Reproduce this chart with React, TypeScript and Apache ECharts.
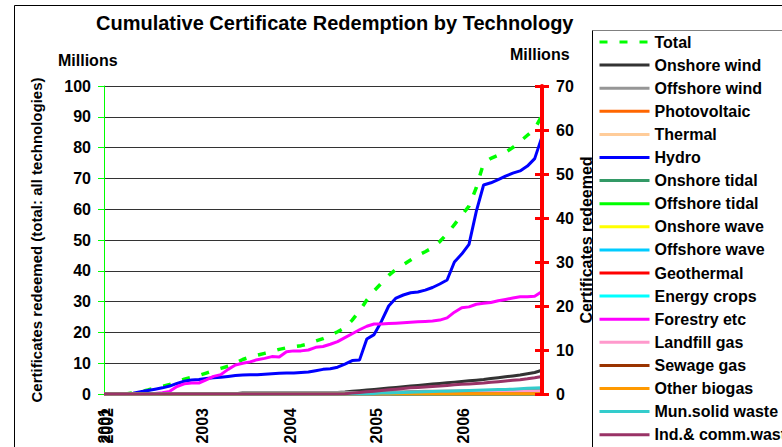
import React, { useEffect, useRef } from 'react';
import * as echarts from 'echarts';

// x positions are month indices (0 = first data point); year labels sit at these positions
const yearLabelPos = [0, 0.45, 13.5, 25.5, 37.3, 49.2];
const yearLabels = ['2001', '2002', '2003', '2004', '2005', '2006'];

const leftTicks = [0, 100, 10];
const rightTicks = [0, 70, 10];

// Total (left axis, millions)
const total = [0, 0, 0, 0, 0.4, 0.8, 1.3, 1.9, 2.5, 3.1, 4.0, 4.8, 5.4, 6.0, 6.8, 7.6, 8.3, 9.0, 10.0, 11.2, 12.0, 12.6, 13.2, 13.8, 14.5, 15.0, 15.4, 15.7, 16.3, 17.2, 18.0, 19.0, 20.2, 21.5, 24.0, 27.0, 30.5, 33.5, 36.0, 38.5, 40.5, 42.0, 43.5, 45.0, 46.2, 47.5, 49.5, 52.0, 55.0, 58.0, 61.0, 67.0, 75.0, 76.5, 77.5, 78.5, 80.0, 82.0, 84.0, 86.0, 90.5];
// Technologies (right axis, millions)
const onshoreWind = [0, 0, 0, 0, 0, 0, 0, 0, 0, 0, 0, 0, 0, 0, 0, 0, 0, 0, 0, 0, 0, 0, 0, 0, 0, 0, 0.05, 0.08, 0.1, 0.15, 0.2, 0.28, 0.35, 0.45, 0.6, 0.75, 0.9, 1.05, 1.2, 1.35, 1.5, 1.65, 1.8, 1.95, 2.1, 2.25, 2.4, 2.55, 2.7, 2.85, 3.0, 3.15, 3.3, 3.5, 3.7, 3.9, 4.1, 4.3, 4.6, 4.9, 5.4];
const offshoreWind = [0, 0, 0, 0, 0, 0, 0, 0, 0, 0, 0, 0, 0, 0, 0, 0, 0, 0, 0, 0.35, 0.35, 0.35, 0.35, 0.35, 0.35, 0.35, 0.35, 0.35, 0.35, 0.35, 0.35, 0.35, 0.35, 0.35, 0.35, 0.35, 0.4, 0.42, 0.45, 0.47, 0.5, 0.52, 0.55, 0.57, 0.6, 0.62, 0.64, 0.66, 0.68, 0.7, 0.71, 0.72, 0.73, 0.74, 0.75, 0.76, 0.77, 0.78, 0.79, 0.8, 0.8];
const photovoltaic = [0, 0, 0, 0, 0, 0, 0, 0, 0, 0, 0, 0, 0, 0, 0, 0, 0, 0, 0, 0, 0, 0, 0, 0, 0, 0, 0, 0, 0, 0, 0, 0, 0, 0, 0, 0, 0, 0, 0, 0, 0, 0, 0, 0, 0, 0, 0, 0, 0, 0, 0, 0, 0, 0, 0, 0, 0, 0, 0, 0, 0];
const thermal = [0, 0, 0, 0, 0, 0, 0, 0, 0, 0, 0, 0, 0, 0, 0, 0, 0, 0, 0, 0, 0, 0, 0, 0, 0, 0, 0, 0, 0, 0, 0, 0, 0, 0, 0, 0, 0, 0, 0, 0, 0, 0, 0, 0, 0, 0, 0, 0, 0, 0, 0, 0, 0, 0, 0, 0, 0, 0, 0, 0, 0];
const hydro = [0, 0, 0, 0, 0.2, 0.5, 0.8, 1.1, 1.4, 1.8, 2.4, 2.9, 3.2, 3.3, 3.5, 3.7, 3.8, 4.0, 4.2, 4.3, 4.35, 4.4, 4.5, 4.6, 4.7, 4.75, 4.8, 4.9, 5.0, 5.3, 5.6, 5.75, 6.1, 6.8, 7.6, 7.7, 12.5, 13.5, 16.5, 20.0, 21.8, 22.5, 23.0, 23.2, 23.6, 24.2, 25.0, 25.9, 30.0, 31.8, 34.0, 41.5, 47.5, 48.0, 48.7, 49.5, 50.2, 50.7, 51.8, 53.5, 58.5];
const onshoreTidal = [0, 0, 0, 0, 0, 0, 0, 0, 0, 0, 0, 0, 0, 0, 0, 0, 0, 0, 0, 0, 0, 0, 0, 0, 0, 0, 0, 0, 0, 0, 0, 0, 0, 0, 0, 0, 0, 0, 0, 0, 0, 0, 0, 0, 0, 0, 0, 0, 0, 0, 0, 0, 0, 0, 0, 0, 0, 0, 0, 0, 0];
const offshoreTidal = [0, 0, 0, 0, 0, 0, 0, 0, 0, 0, 0, 0, 0, 0, 0, 0, 0, 0, 0, 0, 0, 0, 0, 0, 0, 0, 0, 0, 0, 0, 0, 0, 0, 0, 0, 0, 0, 0, 0, 0, 0, 0, 0, 0, 0, 0, 0, 0, 0, 0, 0, 0, 0, 0, 0, 0, 0, 0, 0, 0, 0];
const onshoreWave = [0, 0, 0, 0, 0, 0, 0, 0, 0, 0, 0, 0, 0, 0, 0, 0, 0, 0, 0, 0, 0, 0, 0, 0, 0, 0, 0, 0, 0, 0, 0, 0, 0, 0, 0, 0, 0, 0, 0, 0, 0, 0, 0, 0, 0, 0, 0, 0, 0, 0, 0, 0, 0, 0, 0, 0, 0, 0, 0, 0, 0];
const offshoreWave = [0, 0, 0, 0, 0, 0, 0, 0, 0, 0, 0, 0, 0, 0, 0, 0, 0, 0, 0, 0, 0, 0, 0, 0, 0, 0, 0, 0, 0, 0, 0, 0, 0, 0, 0, 0, 0, 0, 0, 0, 0, 0, 0, 0, 0, 0, 0, 0, 0, 0, 0, 0, 0, 0, 0, 0, 0, 0, 0, 0, 0];
const geothermal = [0, 0, 0, 0, 0, 0, 0, 0, 0, 0, 0, 0, 0, 0, 0, 0, 0, 0, 0, 0, 0, 0, 0, 0, 0, 0, 0, 0, 0, 0, 0, 0, 0, 0, 0, 0, 0, 0, 0, 0, 0, 0, 0, 0, 0, 0, 0, 0, 0, 0, 0, 0, 0, 0, 0, 0, 0, 0, 0, 0, 0];
const energyCrops = [0, 0, 0, 0, 0, 0, 0, 0, 0, 0, 0, 0, 0, 0, 0, 0, 0, 0, 0, 0, 0, 0, 0, 0, 0, 0, 0, 0, 0, 0, 0, 0, 0, 0, 0, 0, 0, 0, 0, 0, 0, 0, 0, 0, 0, 0, 0, 0, 0, 0, 0, 0, 0, 0, 0, 0, 0, 0, 0, 0, 0];
const forestry = [0, 0, 0, 0, 0, 0, 0, 0.1, 0.3, 0.6, 1.7, 2.3, 2.5, 2.5, 3.2, 4.0, 4.4, 5.6, 6.6, 7.0, 7.3, 7.8, 8.1, 8.5, 8.4, 9.6, 9.8, 9.8, 10.0, 10.6, 10.8, 11.3, 11.9, 12.8, 13.7, 14.6, 15.4, 15.9, 15.9, 16.0, 16.1, 16.2, 16.3, 16.4, 16.5, 16.6, 16.8, 17.3, 18.6, 19.6, 19.8, 20.4, 20.6, 20.8, 21.2, 21.5, 21.8, 22.1, 22.1, 22.2, 23.3];
const landfillGas = [0, 0, 0, 0, 0, 0, 0, 0, 0, 0, 0, 0, 0, 0, 0, 0, 0, 0, 0, 0, 0, 0, 0, 0, 0, 0, 0, 0, 0, 0, 0, 0, 0, 0, 0, 0, 0, 0, 0, 0, 0.2, 0.22, 0.24, 0.26, 0.28, 0.3, 0.32, 0.34, 0.36, 0.38, 0.4, 0.42, 0.44, 0.46, 0.48, 0.5, 0.52, 0.54, 0.56, 0.58, 0.6];
const sewageGas = [0, 0, 0, 0, 0, 0, 0, 0, 0, 0, 0, 0, 0, 0, 0, 0, 0, 0, 0, 0, 0, 0, 0, 0, 0, 0, 0, 0, 0, 0, 0, 0, 0, 0, 0, 0, 0, 0, 0, 0, 0, 0, 0, 0, 0, 0, 0, 0, 0, 0, 0, 0, 0, 0, 0, 0, 0, 0, 0, 0, 0];
const otherBiogas = [0, 0, 0, 0, 0, 0, 0, 0, 0, 0, 0, 0, 0, 0, 0, 0, 0, 0, 0, 0, 0.05, 0.05, 0.05, 0.05, 0.05, 0.05, 0.05, 0.05, 0.05, 0.05, 0.05, 0.05, 0.05, 0.05, 0.05, 0.05, 0.05, 0.05, 0.05, 0.05, 0.05, 0.05, 0.05, 0.05, 0.05, 0.05, 0.05, 0.05, 0.05, 0.05, 0.05, 0.05, 0.05, 0.05, 0.05, 0.05, 0.05, 0.05, 0.05, 0.05, 0.05];
const munSolidWaste = [0, 0, 0, 0, 0, 0, 0, 0, 0, 0, 0, 0, 0, 0, 0, 0, 0, 0, 0, 0, 0, 0, 0, 0, 0, 0, 0, 0, 0, 0, 0, 0, 0, 0, 0, 0, 0, 0.1, 0.2, 0.25, 0.3, 0.35, 0.4, 0.45, 0.5, 0.55, 0.6, 0.65, 0.7, 0.75, 0.8, 0.85, 0.9, 0.95, 1.0, 1.05, 1.1, 1.2, 1.3, 1.35, 1.4];
const indCommWaste = [0, 0, 0, 0, 0, 0, 0, 0, 0, 0, 0, 0, 0, 0, 0, 0, 0, 0, 0, 0, 0, 0, 0, 0, 0, 0, 0, 0, 0, 0, 0, 0, 0, 0.05, 0.2, 0.35, 0.5, 0.65, 0.8, 0.95, 1.1, 1.25, 1.4, 1.5, 1.6, 1.7, 1.8, 1.95, 2.1, 2.2, 2.3, 2.4, 2.5, 2.65, 2.8, 2.95, 3.1, 3.25, 3.45, 3.7, 4.0];

const seriesNames = ['Total', 'Onshore wind', 'Offshore wind', 'Photovoltaic', 'Thermal', 'Hydro', 'Onshore tidal', 'Offshore tidal', 'Onshore wave', 'Offshore wave', 'Geothermal', 'Energy crops', 'Forestry etc', 'Landfill gas', 'Sewage gas', 'Other biogas', 'Mun.solid waste', 'Ind.& comm.wast'];
const seriesValues = [total, onshoreWind, offshoreWind, photovoltaic, thermal, hydro, onshoreTidal, offshoreTidal, onshoreWave, offshoreWave, geothermal, energyCrops, forestry, landfillGas, sewageGas, otherBiogas, munSolidWaste, indCommWaste];
const seriesColors = ['#00FF00', '#333333', '#969696', '#FF6600', '#FFCC99', '#0000FF', '#339966', '#00FF00', '#FFFF00', '#00CCFF', '#FF0000', '#00FFFF', '#FF00FF', '#FF99CC', '#993300', '#FF9900', '#33CCCC', '#993366'];

const FONT = '"Liberation Sans", Arial, sans-serif';
const ROW = 23.1;

export default function App() {
  const ref = useRef<HTMLDivElement>(null);
  useEffect(() => {
    document.body.style.margin = '0';
    if (!ref.current) return;
    const chart = echarts.init(ref.current, null, { renderer: 'svg' });
    const series = seriesNames.map((name, k) => ({
      name,
      type: 'line',
      xAxisIndex: 0,
      yAxisIndex: k === 0 ? 0 : 1,
      symbol: 'none',
      data: seriesValues[k].map((v, i) => [i, v]),
      lineStyle: {
        color: seriesColors[k],
        width: k === 0 ? 3.5 : 3,
        type: k === 0 ? [8, 12] : 'solid',
      },
      itemStyle: { color: seriesColors[k] },
      z: 2,
    }));
    const legendBase = {
      orient: 'vertical',
      left: 598,
      padding: 0,
      itemWidth: 50,
      itemHeight: 16,
      itemGap: ROW - 16,
      itemStyle: { opacity: 0 },
      lineStyle: { width: 3 },
      textStyle: { fontFamily: FONT, fontSize: 16, lineHeight: 16, fontWeight: 'bold', color: '#000' },
    };
    const labelFormatter = (v: number) => {
      let best = 0;
      yearLabelPos.forEach((p, i) => {
        if (Math.abs(p - v) < Math.abs(yearLabelPos[best] - v)) best = i;
      });
      return yearLabels[best];
    };
    const xLabelStyle = {
      rotate: 90,
      margin: 14,
      fontFamily: FONT,
      fontSize: 16,
      fontWeight: 'bold',
      color: '#000',
      showMinLabel: true,
      showMaxLabel: true,
      hideOverlap: false,
      formatter: labelFormatter,
    };
    const option = {
      animation: false,
      backgroundColor: '#ffffff',
      textStyle: { fontFamily: FONT },
      title: {
        text: 'Cumulative Certificate Redemption by Technology',
        left: 96,
        top: 13,
        padding: 0,
        textStyle: { fontFamily: FONT, fontSize: 20, fontWeight: 'bold', color: '#000' },
      },
      legend: [
        { ...legendBase, top: 34, data: seriesNames.slice(0, 9) },
        { ...legendBase, top: 34 + 9 * ROW, data: seriesNames.slice(9) },
      ],
      grid: { left: 104, right: 240, top: 86, bottom: 53, containLabel: false },
      xAxis: [
        {
          type: 'value',
          position: 'bottom',
          min: 0,
          max: total.length - 1,
          axisLine: { show: true, onZero: false, lineStyle: { color: '#333', width: 1 } },
          axisTick: { show: false },
          splitLine: { show: false },
          axisLabel: { ...xLabelStyle, customValues: yearLabelPos.filter((_, i) => i !== 1) },
        },
        {
          type: 'value',
          position: 'bottom',
          min: 0,
          max: total.length - 1,
          axisLine: { show: false, onZero: false },
          axisTick: { show: false },
          splitLine: { show: false },
          axisLabel: { ...xLabelStyle, customValues: [yearLabelPos[1]] },
        },
      ],
      yAxis: [
        {
          type: 'value',
          position: 'left',
          min: leftTicks[0],
          max: leftTicks[1],
          interval: leftTicks[2],
          name: 'Certificates redeemed (total: all technologies)',
          nameLocation: 'middle',
          nameRotate: 90,
          nameGap: 60,
          nameMoveOverlap: false,
          nameTextStyle: { fontFamily: FONT, fontSize: 15, fontWeight: 'bold', color: '#000' },
          axisLine: { show: true, onZero: false, lineStyle: { color: '#00FF00', width: 1 } },
          axisTick: { show: true, length: 6, lineStyle: { color: '#00FF00', width: 1 } },
          axisLabel: { margin: 13, fontFamily: FONT, fontSize: 16, fontWeight: 'bold', color: '#000' },
          splitLine: { show: true, lineStyle: { color: '#333333', width: 1 } },
        },
        {
          type: 'value',
          position: 'right',
          min: rightTicks[0],
          max: rightTicks[1],
          interval: rightTicks[2],
          name: 'Certificates redeemed',
          nameLocation: 'middle',
          nameRotate: 90,
          nameGap: 36,
          nameMoveOverlap: false,
          nameTextStyle: { fontFamily: FONT, fontSize: 16, fontWeight: 'bold', color: '#000' },
          axisLine: { show: true, onZero: false, lineStyle: { color: '#FF0000', width: 4 } },
          axisTick: { show: true, length: 7, lineStyle: { color: '#FF0000', width: 3 } },
          axisLabel: { margin: 14, fontFamily: FONT, fontSize: 16, fontWeight: 'bold', color: '#000' },
          splitLine: { show: false },
          z: 5,
        },
        {
          type: 'value',
          position: 'right',
          min: rightTicks[0],
          max: rightTicks[1],
          interval: rightTicks[2],
          axisLine: { show: false, onZero: false },
          axisTick: { show: true, inside: true, length: 7, lineStyle: { color: '#FF0000', width: 3 } },
          axisLabel: { show: false },
          splitLine: { show: false },
          z: 5,
        },
      ],
      graphic: [
        { type: 'line', shape: { x1: 14.5, y1: 5.5, x2: 790, y2: 5.5 }, style: { stroke: '#000', lineWidth: 1 }, silent: true },
        { type: 'line', shape: { x1: 14.5, y1: 5.5, x2: 14.5, y2: 460 }, style: { stroke: '#000', lineWidth: 1 }, silent: true },
        { type: 'line', shape: { x1: 592.5, y1: 30.5, x2: 790, y2: 30.5 }, style: { stroke: '#808080', lineWidth: 1 }, silent: true },
        { type: 'line', shape: { x1: 592.5, y1: 30.5, x2: 592.5, y2: 460 }, style: { stroke: '#000', lineWidth: 1 }, silent: true },
        { type: 'text', left: 58, top: 52, style: { text: 'Millions', fill: '#000', font: 'bold 16px ' + FONT } },
        { type: 'text', left: 510, top: 46, style: { text: 'Millions', fill: '#000', font: 'bold 16px ' + FONT } },
      ],
      series,
    };
    chart.setOption(option as any);
    return () => chart.dispose();
  }, []);
  return <div ref={ref} style={{ position: 'fixed', left: 0, top: 0, width: 782, height: 447 }} />;
}
